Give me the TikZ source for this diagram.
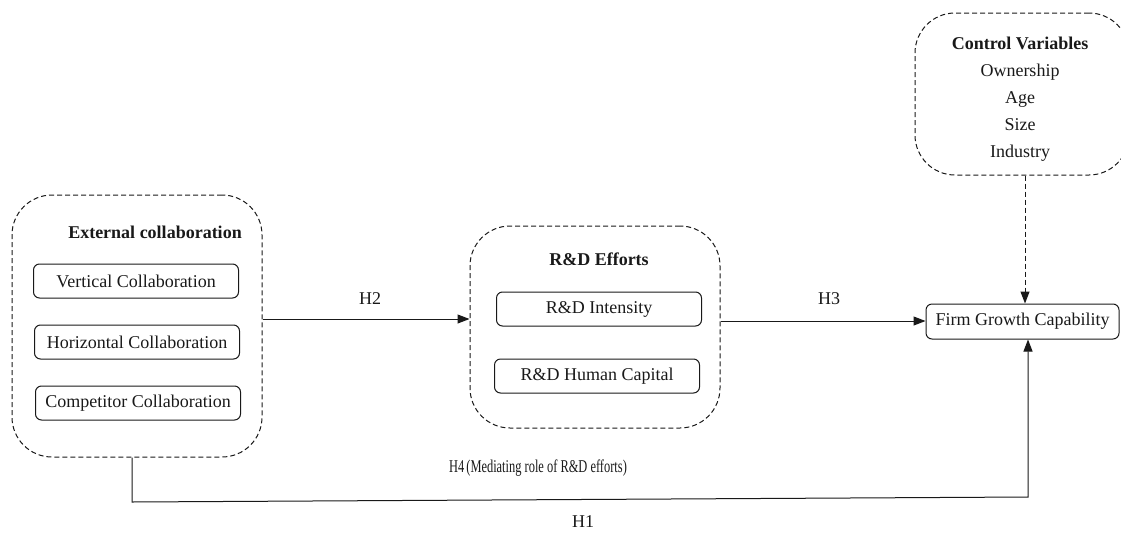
\documentclass[tikz,border=0pt]{standalone}
\usepackage{fontspec}
\setmainfont{Liberation Serif}
\usetikzlibrary{arrows.meta}
\begin{document}
\begin{tikzpicture}[x=1pt,y=-1pt,
  every node/.style={font=\fontsize{18}{21}\selectfont, text=black!90},
  group/.style={draw=black!90, line width=1pt, dashed, dash pattern=on 5pt off 3pt,
    rounded corners=40pt, minimum width=#1, inner sep=0pt},
  item/.style={draw=black!90, line width=1pt, rounded corners=6pt, minimum width=205pt,
    minimum height=34pt, inner sep=0pt},
  head/.style={font=\fontsize{18}{21}\selectfont\bfseries},
  cvline/.style={anchor=base, inner sep=0pt},
  arr/.style={draw=black!90, line width=1pt, -{Triangle[length=12pt,width=9pt]}},
  lbl/.style={inner sep=0pt}
]
\useasboundingbox (0,0) rectangle (1121,533);

% outer groups
\node[group=250pt, minimum height=262pt] (ext) at (137,326) {};
\node[group=250pt, minimum height=202pt] (rd) at (595,327) {};
\node[group=214pt, minimum height=162pt] (cv) at (1022,94) {};

% external collaboration
\node[head] (exth) at (155,232) {External collaboration};
\node[item] (vc) at (136,281) {Vertical Collaboration};
\node[item] (hc) at (137,342) {Horizontal Collaboration};
\node[item] (cc) at (138,403) {Competitor Collaboration};

% R&D efforts
\node[head] (rdh) at (599,259) {R\&D Efforts};
\node[item] (ri) at (599,309) {R\&D Intensity};
\node[item] (rh) at (597,376) {R\&D Human Capital};

% control variables
\node[head, cvline] (cvh) at (1020,49) {Control Variables};
\node[cvline] (cv1) at (1020,76) {Ownership};
\node[cvline] (cv2) at (1020,103) {Age};
\node[cvline] (cv3) at (1020,130) {Size};
\node[cvline] (cv4) at (1020,157) {Industry};

% outcome
\node[draw=black!90, line width=1pt, rounded corners=6pt, minimum width=193pt,
  minimum height=35pt, inner sep=0pt] (fg) at (1022.5,321.5) {Firm Growth Capability};

% paths
\draw[arr] ([yshift=7pt]ext.east) -- ([yshift=7pt]ext.east -| rd.west);
\draw[arr] ([yshift=6pt]rd.east) -- ([yshift=6pt]rd.east -| fg.west);
\draw[arr, dashed, dash pattern=on 5pt off 3pt]
  ([xshift=3pt]cv.south) -- ([xshift=3pt]cv.south |- fg.north);

\coordinate (c1) at (132,502);
\coordinate (c2) at (1028,497);
\draw[arr] (ext.south -| c1) -- (c1) -- (c2) -- (c2 |- fg.south);

% labels
\node[lbl] (h2) at (370,299) {H2};
\node[lbl] (h3) at (829,299) {H3};
\node[lbl, xscale=0.69] (h4) at (538,468) {H4\,(Mediating role of R\&D efforts)};
\node[lbl] (h1) at (583,522) {H1};
\end{tikzpicture}
\end{document}
